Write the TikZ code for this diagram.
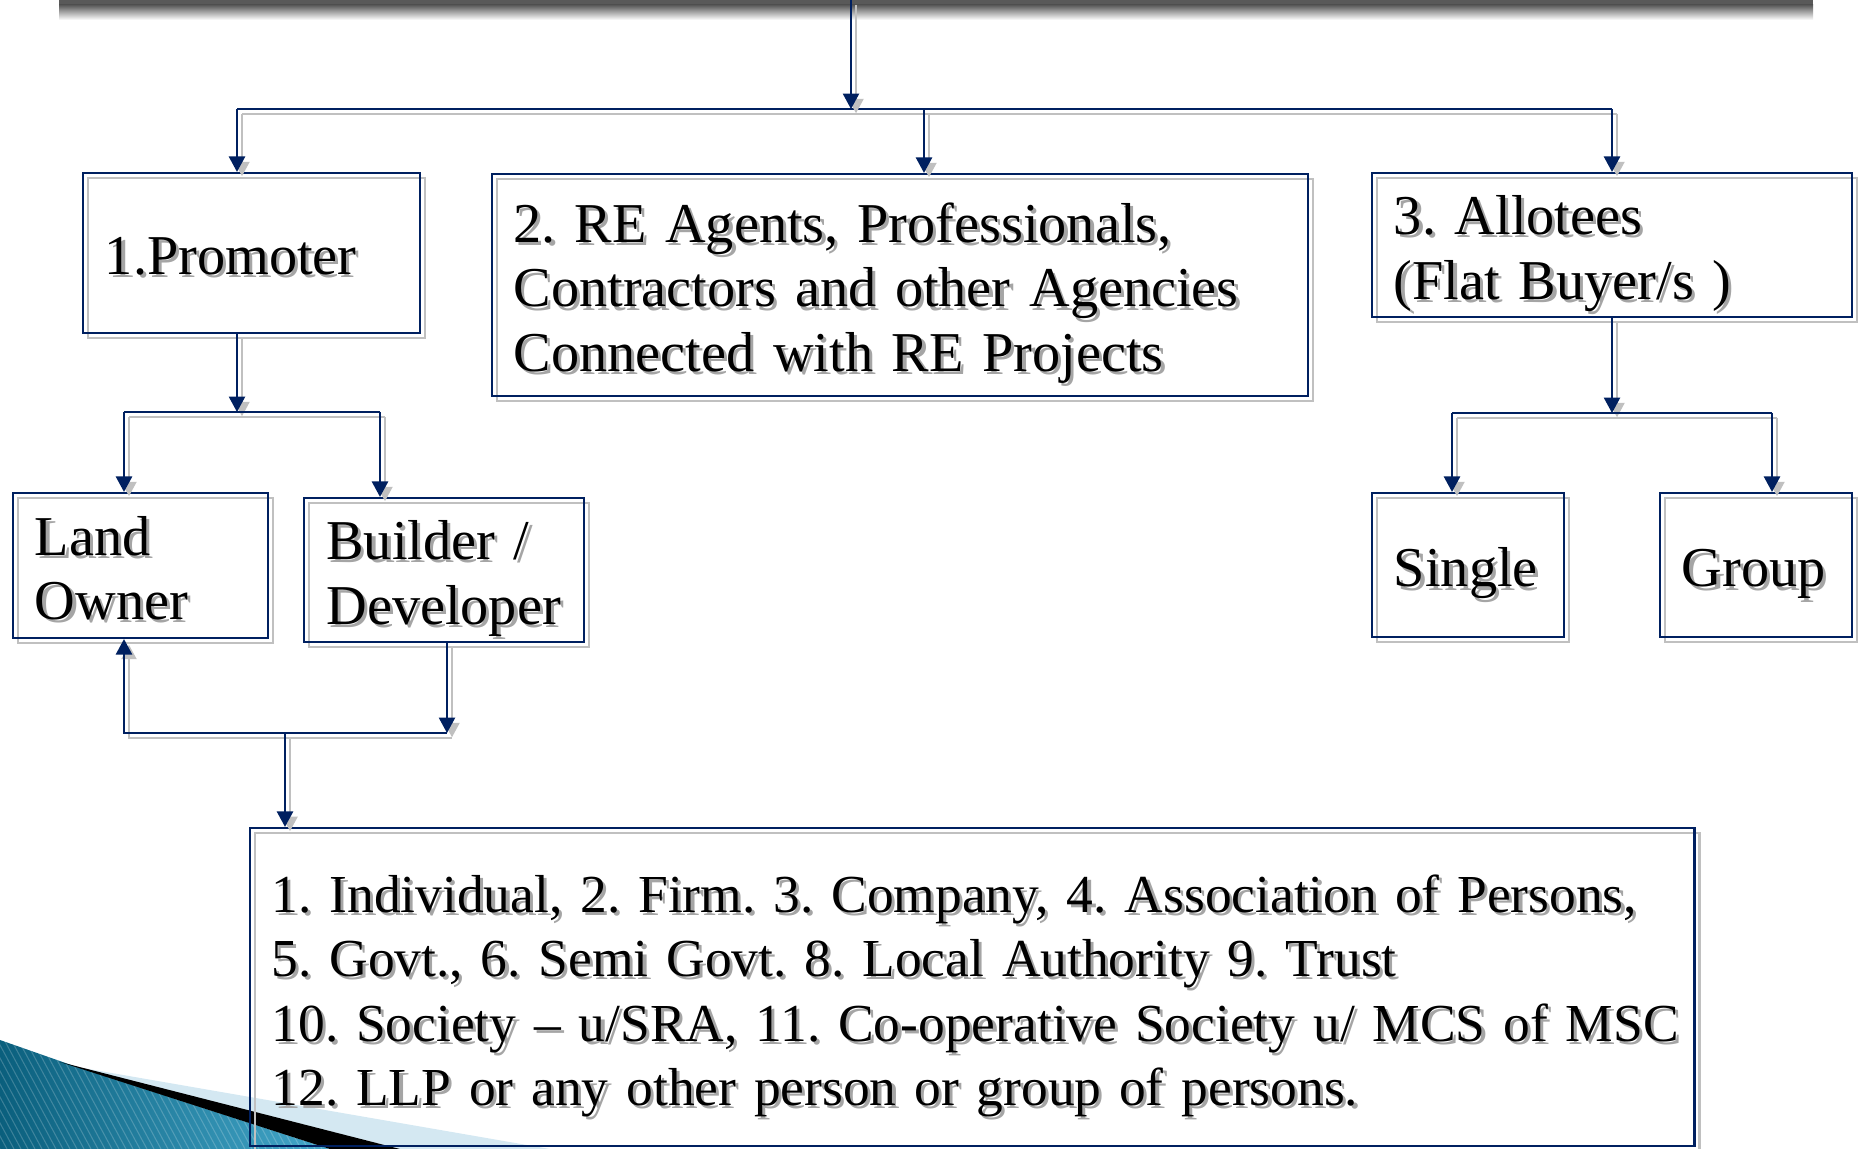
\documentclass[tikz,border=0pt]{standalone}
\usepackage{fontspec}
\setmainfont{Liberation Serif}[WordSpace=0.85]
\usetikzlibrary{arrows.meta}
\frenchspacing

\definecolor{navy}{RGB}{0,32,96}
\definecolor{shgray}{RGB}{192,192,192}
\definecolor{txtgray}{RGB}{165,165,165}
\definecolor{tealdark}{RGB}{10,95,125}
\definecolor{teallight}{RGB}{70,170,205}
\definecolor{paleblue}{RGB}{212,232,242}

% text with a grey copy behind it
\newcommand{\shtext}[1]{%
  \raisebox{-3pt}[\height][\depth]{%
  \makebox[0pt][l]{\kern0.9pt\raisebox{-0.9pt}{\color{txtgray}\begin{tabular}[b]{@{}l@{}}#1\end{tabular}}}%
  \begin{tabular}[b]{@{}l@{}}#1\end{tabular}}}

\tikzset{
  conn/.style={draw=navy, line width=0.6pt,
    preaction={draw=shgray, transform canvas={shift={(5,5)}}}},
  blk/.style={conn, rectangle, inner xsep=0.22cm, inner ysep=0pt, align=left,
    font=\fontsize{16}{18.3}\selectfont},
}

\begin{document}
\begin{tikzpicture}[x=0.01cm, y=-0.01cm, >={Triangle[length=4.4pt,width=4.6pt]}]
  \useasboundingbox (0,0) rectangle (1858,1149);

  % Corner decoration
  \begin{scope}
    \clip (0,1040) -- (77,1067) -- (330,1149) -- (0,1149) -- cycle;
    \shade[left color=tealdark, right color=teallight] (0,1020) rectangle (340,1149);
    \foreach \i in {0,7,...,420}
      \draw[white, opacity=0.2, line width=0.3pt] (\i,1149) -- ++(-70,-130);
  \end{scope}
  \fill[paleblue] (77,1067) -- (550,1149) -- (400,1149) -- cycle;
  \fill[black] (60,1062) -- (400,1149) -- (330,1149) -- cycle;

  % Title bar, cut off at the top
  \fill[black!65] (59,0) rectangle (1813,5);
  \shade[top color=black!65, bottom color=white] (59,5) rectangle (1813,20);

  % Boxes
  \node[blk, text width=2.93cm, minimum height=1.6cm] (promoter) at (251.5,253) {\shtext{1.Promoter}};
  \node[blk, text width=7.72cm, minimum height=2.22cm] (agents) at (900,285)
    {\shtext{2. RE Agents, Professionals,\\Contractors and other Agencies\\Connected with RE Projects}};
  \node[blk, text width=4.36cm, minimum height=1.44cm] (allot) at (1612,245)
    {\shtext{3. Allotees\\(Flat Buyer/s )}};
  \node[blk, text width=2.11cm, minimum height=1.45cm] (land) at (140.5,565.5) {\shtext{Land\\Owner}};
  \node[blk, text width=2.35cm, minimum height=1.44cm] (builder) at (444,570) {\shtext{Builder /\\Developer}};
  \node[blk, text width=1.48cm, minimum height=1.44cm] (single) at (1468,565) {\shtext{Single}};
  \node[blk, text width=1.48cm, minimum height=1.44cm] (group) at (1756,565) {\shtext{Group}};
  \node[blk, font=\fontsize{15.2}{18.3}\selectfont, text width=14cm, minimum height=3.18cm]
    (entities) at (972,987)
    {\shtext{1. Individual, 2. Firm. 3. Company, 4. Association of Persons,\\
      5. Govt., 6. Semi Govt. 8. Local Authority 9. Trust\\
      10. Society – u/SRA, 11. Co-operative Society u/ MCS of MSC\\
      12. LLP or any other person or group of persons.}};

  % Top level bus
  \coordinate (title) at (851,0);
  \coordinate (busL) at (237,109);
  \coordinate (busM) at (924,109);
  \coordinate (busR) at (1612,109);
  \draw[conn] (busL) -- (busR);
  \draw[conn,->] (title) -- (title |- busL);
  \draw[conn,->] (busL) -- (busL |- promoter.north);
  \draw[conn,->] (busM) -- (busM |- agents.north);
  \draw[conn,->] (busR) -- (busR |- allot.north);

  % Promoter split
  \coordinate (pL) at (124,412);
  \coordinate (pR) at (380,412);
  \draw[conn,->] (promoter.south -| busL) -- (busL |- pL);
  \draw[conn] (pL) -- (pR);
  \draw[conn,->] (pL) -- (pL |- land.north);
  \draw[conn,->] (pR) -- (pR |- builder.north);

  % Allotees split
  \coordinate (aL) at (1452,413);
  \coordinate (aR) at (1772,413);
  \draw[conn,->] (allot.south) -- (allot.south |- aL);
  \draw[conn] (aL) -- (aR);
  \draw[conn,->] (aL) -- (aL |- single.north);
  \draw[conn,->] (aR) -- (aR |- group.north);

  % Land owner and builder to the list
  \coordinate (lL) at (124,733);
  \coordinate (lM) at (285,733);
  \coordinate (lR) at (447,733);
  \draw[conn,<-] (land.south -| lL) -- (lL) -- (lR);
  \draw[conn,->] (builder.south -| lR) -- (lR);
  \draw[conn,->] (lM) -- (lM |- entities.north);
\end{tikzpicture}
\end{document}
